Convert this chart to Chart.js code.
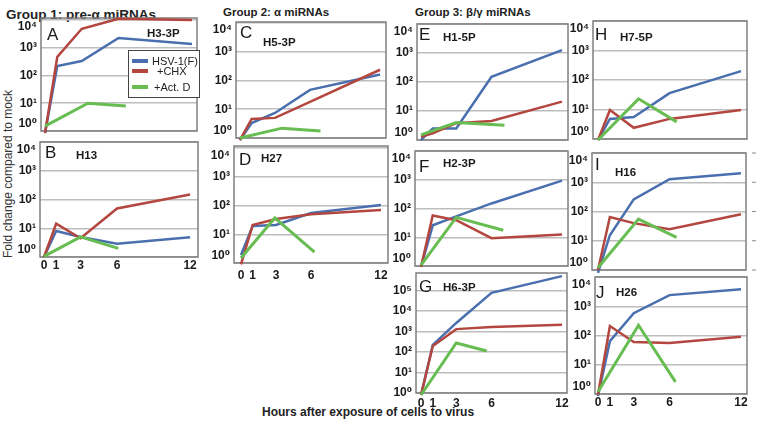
<!DOCTYPE html>
<html>
<head>
<meta charset="utf-8">
<script src="https://cdn.jsdelivr.net/npm/chart.js@4.4.1/dist/chart.umd.min.js"></script>
<style>
  body { margin: 0; background: #fff; width: 758px; height: 421px; position: relative; overflow: hidden; font-family: "Liberation Sans", Arial, sans-serif; }
  canvas { position: absolute; }
  .txt { position: absolute; white-space: nowrap; color: #222; }
</style>
</head>
<body>
<div class="txt" style="left:6px;top:7px;font:bold 13.5px 'Liberation Sans'">Group 1: pre-α miRNAs</div>
<div class="txt" style="left:223px;top:6px;font:bold 11.5px 'Liberation Sans'">Group 2: α miRNAs</div>
<div class="txt" style="left:415px;top:6px;font:bold 11.5px 'Liberation Sans'">Group 3: β/γ miRNAs</div>
<div class="txt" style="left:-92px;top:167px;width:200px;text-align:center;transform:rotate(-90deg);font:12px 'Liberation Sans';color:#333">Fold change compared to mock</div>
<div class="txt" style="left:262px;top:405px;width:200px;text-align:center;font:bold 12px 'Liberation Sans'">Hours after exposure of cells to virus</div>

<script>
// sampling times (hours after exposure)
const hours = [0, 1, 3, 6, 12];
const panelLetters = ['A', 'B', 'C', 'D', 'E', 'F', 'G', 'H', 'I', 'J'];
const panelNames = ['H3-3P', 'H13', 'H5-3P', 'H27', 'H1-5P', 'H2-3P', 'H6-3P', 'H7-5P', 'H16', 'H26'];
const seriesLabels = ['HSV-1(F)', '+CHX', '+Act. D'];

// fold change vs mock, one row per panel A..J
const hsvValues = [
  [0.85, 220, 330, 2240, 1350],
  [1, 8, 5, 2.9, 4.9],
  [0.85, 3.3, 7.4, 47, 160],
  [1.9, 19.5, 21, 55, 105],
  [1, 2.5, 2.5, 150, 1250],
  [0.93, 26, 53, 150, 930],
  [0.8, 220, 2600, 76000, 500000],
  [0.93, 4.8, 5.6, 36, 200],
  [0.8, 15.5, 260, 1270, 2050],
  [0.85, 64, 580, 2400, 3800]
];
const chxValues = [
  [0.85, 470, 4800, 11000, 10000],
  [1, 14.5, 4.5, 49, 150],
  [0.85, 4.6, 5, 18, 235],
  [0.9, 21, 34, 50, 70],
  [1.3, 1.7, 3.8, 4.5, 21],
  [0.93, 57, 39, 9.3, 12.5],
  [0.8, 195, 1300, 1650, 2100],
  [0.93, 9.6, 2.4, 4.8, 9.6],
  [1, 65, 40, 25, 80],
  [0.95, 210, 60, 55, 90]
];
// Act. D series only has three time points, drawn slightly offset in the figure
const actdHours = [
  [0, 3.5, 6.6], [0, 3, 6.1], [0, 3.6, 6.9], [0, 2.9, 6.3], [0, 3, 7.1],
  [0, 3, 7], [0, 3, 5.6], [0, 3.4, 6.6], [0, 3.4, 6.6], [0, 3.4, 6.5]
];
const actdValues = [
  [1.5, 10, 8], [1.05, 5, 2], [1, 2.2, 1.75], [1.5, 37, 2.4], [1.5, 4, 3.2],
  [1.07, 49, 17.5], [0.8, 275, 112], [0.93, 23, 3.8], [1.2, 55, 13], [1.2, 225, 2.6]
];

// panel placement on the page (plot box: left, top, right, bottom)
const layout = [
  { box: [41, 18, 197, 131],  x: [-0.33, 12.41], yTop: 4.07, letter: [6, 22], name: [106, 19], legend: true },
  { box: [40, 142, 198, 257], x: [-0.33, 12.65], yTop: 4,    letter: [5, 16], name: [36, 17], xLabels: true, xPad: 1 },
  { box: [236, 22, 386, 138], x: [-0.34, 12.51], yTop: 4.03, letter: [4, 16], name: [27, 24] },
  { box: [234, 146, 388, 263], x: [-0.6, 12.6],  yTop: 4.07, letter: [5, 19], name: [27, 16], xLabels: true, xPad: 5 },
  { box: [417, 24, 568, 140], x: [-0.34, 12.51], yTop: 4,    letter: [2, 16], name: [26, 17] },
  { box: [415, 151, 568, 266], x: [-0.51, 12.51], yTop: 4,   letter: [4, 21], name: [28, 16] },
  { box: [416, 273, 567, 393], x: [-0.43, 12.43], yTop: 5.85, letter: [3, 19], name: [27, 18], xLabels: true, xPad: 3, keepBottom: true },
  { box: [593, 21, 747, 139], x: [-0.42, 12.5],  yTop: 4,    letter: [2, 19], name: [27, 20] },
  { box: [592, 153, 746, 270], x: [-0.5, 12.42], yTop: 4,    letter: [3, 17], name: [23, 23], rightTicks: true },
  { box: [595, 277, 747, 394], x: [-0.25, 12.5], yTop: 4,    letter: [1, 21], name: [21, 19], xLabels: true, xPad: 1 }
];

const colors = ['#4A6FAE', '#B3463F', '#68BD52'];
const sup = ['⁰', '¹', '²', '³', '⁴', '⁵', '⁶'];
const AXIS_W = 44, PAD_TOP = 14, X_H = 22;

// box, panel letter/name, legend
const panelDecor = {
  id: 'panelDecor',
  beforeDatasetsDraw(chart) {
    const { ctx, chartArea: a } = chart;
    ctx.save();
    ctx.strokeStyle = '#7f7f7f';
    ctx.lineWidth = 1.5;
    ctx.strokeRect(a.left, a.top, a.right - a.left, a.bottom - a.top);
    ctx.restore();
  },
  afterDatasetsDraw(chart, args, opts) {
    const { ctx, chartArea: a } = chart;
    ctx.save();
    ctx.fillStyle = '#1a1a1a';
    ctx.textBaseline = 'alphabetic';
    ctx.font = '17px "Liberation Sans", Arial, sans-serif';
    ctx.fillText(opts.letter, a.left + opts.letterPos[0], a.top + opts.letterPos[1]);
    ctx.font = 'bold 11.5px "Liberation Sans", Arial, sans-serif';
    ctx.fillText(opts.name, a.left + opts.namePos[0], a.top + opts.namePos[1]);

    if (opts.rightTicks) {
      ctx.strokeStyle = '#888';
      ctx.lineWidth = 1;
      chart.scales.y.ticks.forEach(t => {
        const y = chart.scales.y.getPixelForValue(t.value);
        ctx.beginPath();
        ctx.moveTo(a.right + 6, y);
        ctx.lineTo(a.right + 10, y);
        ctx.stroke();
      });
    }

    if (opts.legend) {
      const lx = a.left + 87, ly = a.top + 32;
      ctx.fillStyle = '#fff';
      ctx.fillRect(lx, ly, a.right + 2 - lx, 47);
      ctx.strokeStyle = '#444';
      ctx.lineWidth = 1;
      ctx.strokeRect(lx + 0.5, ly + 0.5, a.right + 2 - lx, 47);
      const rowY = [43, 53, 69];
      const textX = [111, 116, 113];
      ctx.font = '11px "Liberation Sans", Arial, sans-serif';
      ctx.textBaseline = 'middle';
      chart.data.datasets.forEach((ds, i) => {
        ctx.strokeStyle = ds.borderColor;
        ctx.lineWidth = 4;
        ctx.beginPath();
        ctx.moveTo(a.left + 91, a.top + rowY[i]);
        ctx.lineTo(a.left + 107, a.top + rowY[i]);
        ctx.stroke();
        ctx.fillStyle = '#222';
        ctx.fillText(ds.label, a.left + textX[i], a.top + rowY[i] + 1);
      });
    }
    ctx.restore();
  }
};

layout.forEach((p, i) => {
  const [l, t, r, b] = p.box;
  const padR = p.rightTicks ? 12 : 4;
  const canvas = document.createElement('canvas');
  const w = r - l + AXIS_W + padR;
  const h = b - t + PAD_TOP + X_H;
  canvas.width = w;
  canvas.height = h;
  canvas.style.left = (l - AXIS_W) + 'px';
  canvas.style.top = (t - PAD_TOP) + 'px';
  canvas.style.width = w + 'px';
  canvas.style.height = h + 'px';
  document.body.appendChild(canvas);

  const toPoints = (xs, ys) => xs.map((x, k) => ({ x: x, y: ys[k] }));
  const yMax = Math.pow(10, p.yTop);

  new Chart(canvas, {
    type: 'line',
    data: {
      datasets: [
        { label: seriesLabels[0], data: toPoints(hours, hsvValues[i]), borderColor: colors[0], borderWidth: 2.5, order: 2 },
        { label: seriesLabels[1], data: toPoints(hours, chxValues[i]), borderColor: colors[1], borderWidth: 2.5, order: 1 },
        { label: seriesLabels[2], data: toPoints(actdHours[i], actdValues[i]), borderColor: colors[2], borderWidth: 3, order: 0 }
      ]
    },
    options: {
      responsive: false,
      animation: false,
      events: [],
      layout: { padding: { top: PAD_TOP, right: padR, left: 0, bottom: 0 } },
      elements: {
        point: { radius: 0 },
        line: { tension: 0, borderCapStyle: 'butt', borderJoinStyle: 'miter', fill: false }
      },
      datasets: { line: { clip: false } },
      plugins: {
        legend: { display: false },
        tooltip: { enabled: false },
        panelDecor: {
          letter: panelLetters[i],
          name: panelNames[i],
          letterPos: p.letter,
          namePos: p.name,
          legend: !!p.legend,
          rightTicks: !!p.rightTicks
        }
      },
      scales: {
        x: {
          type: 'linear',
          min: p.x[0],
          max: p.x[1],
          grid: { display: false, drawTicks: false },
          border: { display: false },
          afterBuildTicks: s => { s.ticks = hours.map(v => ({ value: v })); },
          afterFit: s => { s.height = X_H; s.paddingLeft = 0; s.paddingRight = 0; },
          ticks: {
            display: !!p.xLabels,
            autoSkip: false,
            maxRotation: 0,
            padding: p.xPad || 2,
            color: '#1a1a1a',
            font: { family: '"Liberation Sans", Arial, sans-serif', size: 12, weight: 'bold' },
            callback: v => String(v)
          }
        },
        y: {
          type: 'logarithmic',
          min: 1,
          max: yMax,
          grid: { color: '#bdbdbd', lineWidth: 1.5, drawTicks: false },
          border: { display: false },
          afterBuildTicks: s => {
            const ticks = [];
            for (let e = 0; Math.pow(10, e) <= s.max * 1.0001; e++) ticks.push({ value: Math.pow(10, e) });
            s.ticks = ticks;
          },
          afterFit: s => { s.width = AXIS_W; s.paddingTop = 0; s.paddingBottom = 0; },
          ticks: {
            autoSkip: false,
            padding: 4,
            color: '#1a1a1a',
            font: { family: '"Liberation Sans", "DejaVu Sans", sans-serif', size: 12, weight: 'bold' },
            callback: v => {
              const e = Math.round(Math.log10(v));
              const label = '10' + sup[e];
              // labels at the box edges sit inside the box, as in the figure
              if (Math.log10(yMax) - e < 0.2) return ['', label];
              if (e === 0 && !p.keepBottom) return [label, ''];
              return label;
            }
          }
        }
      }
    },
    plugins: [panelDecor]
  });
});
</script>
</body>
</html>
